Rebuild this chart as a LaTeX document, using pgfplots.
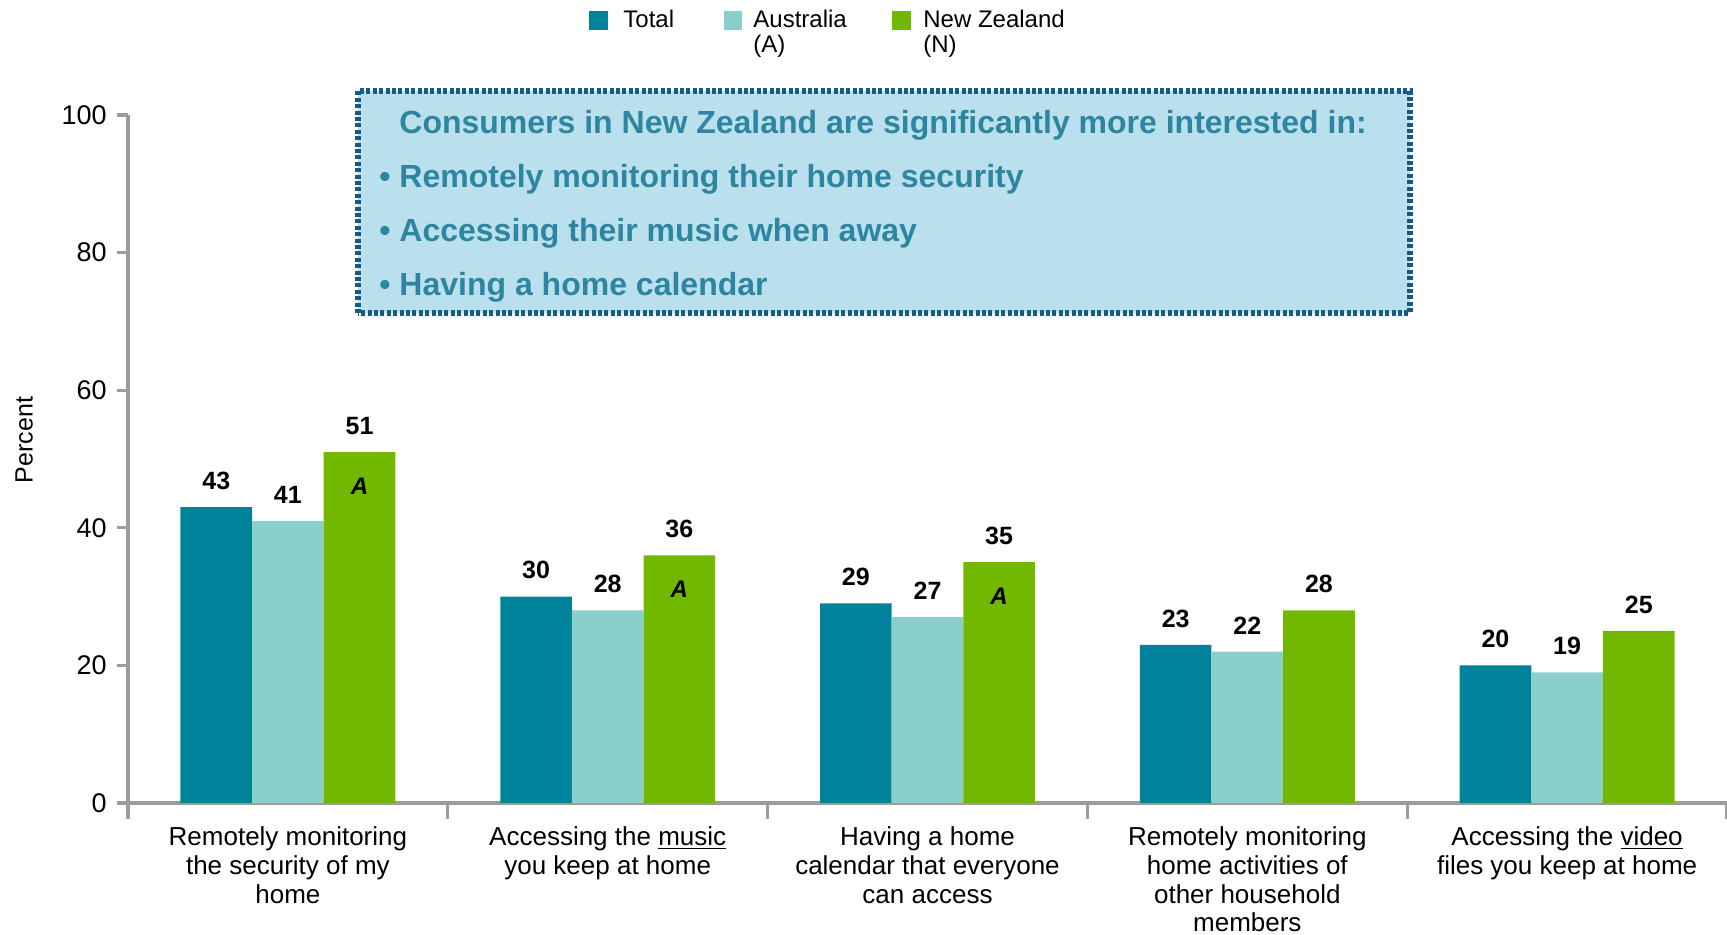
\documentclass[border=0pt]{standalone}
\usepackage{fontspec}
\setmainfont{Liberation Sans}
\usepackage{pgfplots}
\pgfplotsset{compat=1.18}
\definecolor{cTot}{HTML}{00829B}
\definecolor{cAus}{HTML}{8BCFCD}
\definecolor{cNZ}{HTML}{72B800}
\definecolor{axgray}{HTML}{9C9C9C}
\definecolor{boxfill}{HTML}{BBE0ED}
\definecolor{boxline}{HTML}{185A84}
\definecolor{boxtext}{HTML}{2E859F}
\begin{document}
\begin{tikzpicture}
\path[use as bounding box] (-64pt,-66pt) rectangle (799.5pt,401.5pt);
\begin{axis}[
  at={(0pt,0pt)}, anchor=south west,
  width=799.5pt, height=344pt, scale only axis,
  xmin=-0.5, xmax=4.5, ymin=0, ymax=100,
  axis x line*=bottom, axis y line*=left,
  axis line style={color=axgray, line width=1.6pt, -},
  /pgf/number format/assume math mode=true,
  ytick={0,20,...,100},
  xtick={0,...,4},
  xticklabels={{Remotely monitoring\\the security of my\\home},
               {Accessing the \underline{music}\\you keep at home},
               {Having a home\\calendar that everyone\\can access},
               {Remotely monitoring\\home activities of\\other household\\members},
               {Accessing the \underline{video}\\files you keep at home}},
  minor xtick={-0.5,0.5,...,4.5},
  tick align=outside,
  major tick length=5.5pt,
  minor tick length=8pt,
  every major x tick/.append style={draw=none},
  ytick style={color=axgray, line width=1.6pt},
  minor x tick style={color=axgray, line width=1.6pt},
  yticklabel style={font=\fontsize{13.5}{16}\selectfont, inner sep=0pt, xshift=-5pt},
  xticklabel style={font=\fontsize{13}{14.3}\selectfont, align=center, anchor=north, inner sep=0pt, yshift=-6.3pt},
  ylabel={Percent},
  ylabel style={at={(axis description cs:-0.065,0.5276)}, anchor=center, font=\fontsize{12.5}{15}\selectfont},
  ybar, bar width=0.224,
  every node near coord/.append style={font=\fontsize{12.5}{14}\selectfont\bfseries, inner sep=0pt, yshift=8.5pt, anchor=south, black},
  clip=false,
]
\addplot[fill=cTot, draw=none, bar shift=-0.224, nodes near coords] coordinates {(0,43) (1,30) (2,29) (3,23) (4,20)};
\addplot[fill=cAus, draw=none, bar shift=0, nodes near coords] coordinates {(0,41) (1,28) (2,27) (3,22) (4,19)};
\addplot[fill=cNZ, draw=none, bar shift=0.224, nodes near coords] coordinates {(0,51) (1,36) (2,35) (3,28) (4,25)};
\node[font=\fontsize{12}{14}\selectfont\bfseries\itshape, yshift=-17pt] at (axis cs:0.224,51) {A};
\node[font=\fontsize{12}{14}\selectfont\bfseries\itshape, yshift=-17pt] at (axis cs:1.224,36) {A};
\node[font=\fontsize{12}{14}\selectfont\bfseries\itshape, yshift=-17pt] at (axis cs:2.224,35) {A};
\end{axis}
% callout box
\draw[boxline, fill=boxfill, line width=3pt, dash pattern=on 2pt off 1.2pt] (115pt,245pt) rectangle (641pt,356pt);
\begin{scope}[every node/.style={anchor=base west, inner sep=0pt, text=boxtext, font=\fontsize{16}{19}\selectfont\bfseries}]
\node at (135.5pt,334.8pt) {Consumers in New Zealand are significantly more interested in:};
\node at (125.5pt,307.8pt) {• Remotely monitoring their home security};
\node at (125.5pt,280.8pt) {• Accessing their music when away};
\node at (125.5pt,253.8pt) {• Having a home calendar};
\end{scope}
% legend
\fill[cTot] (230.5pt,386.5pt) rectangle (240pt,396pt);
\fill[cAus] (298pt,386.5pt) rectangle (307pt,396pt);
\fill[cNZ] (382pt,386.5pt) rectangle (391.5pt,396pt);
\begin{scope}[every node/.style={anchor=base west, inner sep=0pt, font=\fontsize{12}{14}\selectfont}]
\node at (247.5pt,387.5pt) {Total};
\node at (312.5pt,387.5pt) {Australia};
\node at (312.5pt,375pt) {(A)};
\node at (397.5pt,387.5pt) {New Zealand};
\node at (397.5pt,375pt) {(N)};
\end{scope}
\end{tikzpicture}
\end{document}
